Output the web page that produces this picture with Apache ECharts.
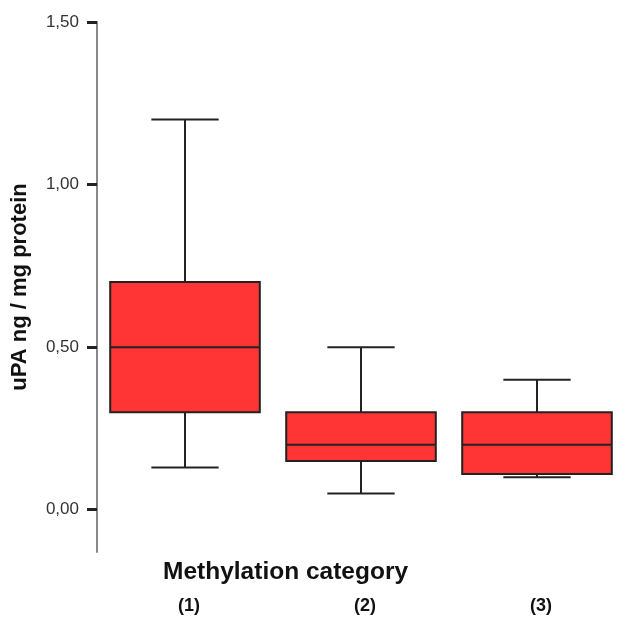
<!DOCTYPE html>
<html>
<head>
<meta charset="utf-8">
<script src="https://cdn.jsdelivr.net/npm/echarts@6/dist/echarts.min.js"></script>
<style>html,body{margin:0;padding:0;background:#fff;}#c{width:625px;height:617px;}</style>
</head>
<body>
<div id="c"></div>
<script>
var categories = ['(1)', '(2)', '(3)'];
var whiskerLow = [0.13, 0.05, 0.10];
var q1 = [0.30, 0.15, 0.11];
var median = [0.50, 0.20, 0.20];
var q3 = [0.70, 0.30, 0.30];
var whiskerHigh = [1.20, 0.50, 0.40];
var yTicks = [0, 0.5, 1, 1.5];

var boxData = categories.map(function (c, i) {
  return [i, whiskerLow[i], q1[i], median[i], q3[i], whiskerHigh[i]];
});

var FONT = 'Liberation Sans, Arial, sans-serif';
var chart = echarts.init(document.getElementById('c'));
var stroke = '#222';
chart.setOption({
  animation: false,
  grid: { left: 97, right: 0, top: 22, bottom: 65 },
  xAxis: {
    type: 'category',
    data: categories,
    axisLine: { show: false },
    axisTick: { show: false },
    axisLabel: {
      margin: 45, fontSize: 18, fontWeight: 'bold', color: '#111',
      fontFamily: FONT, padding: [0, 0, 0, 8]
    },
    splitLine: { show: false }
  },
  yAxis: {
    type: 'value',
    min: -0.13,
    max: 1.5,
    name: 'uPA ng / mg protein',
    nameLocation: 'middle',
    nameGap: 66,
    nameTextStyle: { fontSize: 22, fontWeight: 'bold', color: '#111', fontFamily: FONT },
    axisLine: { show: true, lineStyle: { color: '#888', width: 2 } },
    axisTick: { show: true, customValues: yTicks, length: 10, lineStyle: { color: '#222', width: 3 } },
    axisLabel: {
      customValues: yTicks, fontSize: 17, color: '#333', margin: 18,
      fontFamily: FONT,
      formatter: function (v) { return v.toFixed(2).replace('.', ','); }
    },
    splitLine: { show: false }
  },
  graphic: [{
    type: 'text',
    left: 163, top: 560,
    style: { text: 'Methylation category', fontSize: 24.5, fontWeight: 'bold', fill: '#111', fontFamily: FONT }
  }],
  series: [{
    type: 'custom',
    data: boxData,
    encode: { x: 0, y: [1, 2, 3, 4, 5] },
    renderItem: function (params, api) {
      var xi = api.value(0);
      var band = api.size([1, 0])[0];
      var w = band * 0.85;
      var capW = w * 0.45;
      var pLow = api.coord([xi, api.value(1)]);
      var pQ1 = api.coord([xi, api.value(2)]);
      var pMed = api.coord([xi, api.value(3)]);
      var pQ3 = api.coord([xi, api.value(4)]);
      var pHigh = api.coord([xi, api.value(5)]);
      var cx = pMed[0];
      var ls = { stroke: stroke, lineWidth: 2 };
      return {
        type: 'group',
        children: [
          { type: 'line', shape: { x1: cx, y1: pQ3[1], x2: cx, y2: pHigh[1] }, style: ls },
          { type: 'line', shape: { x1: cx - capW / 2, y1: pHigh[1], x2: cx + capW / 2, y2: pHigh[1] }, style: ls },
          { type: 'line', shape: { x1: cx, y1: pQ1[1], x2: cx, y2: pLow[1] }, style: ls },
          { type: 'line', shape: { x1: cx - capW / 2, y1: pLow[1], x2: cx + capW / 2, y2: pLow[1] }, style: ls },
          { type: 'rect', shape: { x: cx - w / 2, y: pQ3[1], width: w, height: pQ1[1] - pQ3[1] },
            style: { fill: '#ff3434', stroke: stroke, lineWidth: 2 } },
          { type: 'line', shape: { x1: cx - w / 2, y1: pMed[1], x2: cx + w / 2, y2: pMed[1] }, style: ls }
        ]
      };
    }
  }]
});
</script>
</body>
</html>
